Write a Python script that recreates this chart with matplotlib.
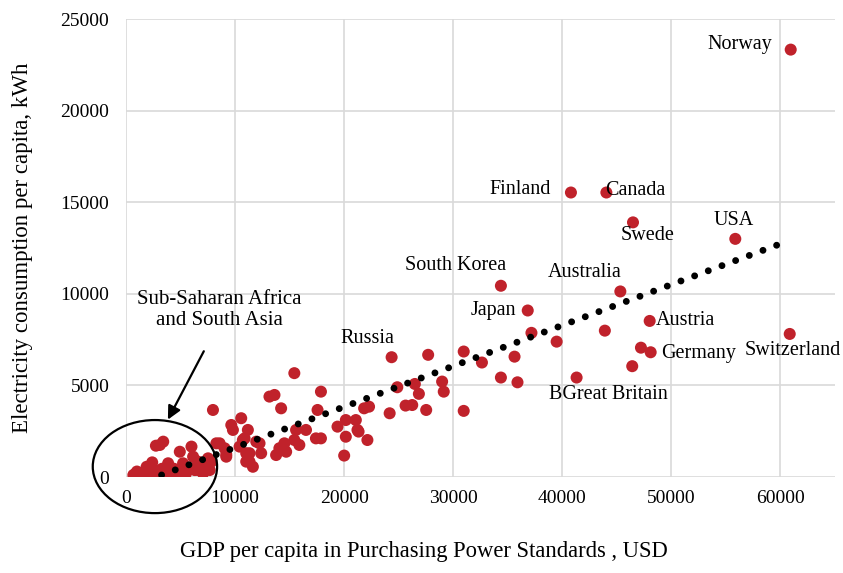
import matplotlib
matplotlib.use("Agg")
import matplotlib.pyplot as plt
from matplotlib.patches import Ellipse

# GDP per capita (PPS, USD) and electricity use per capita (kWh)
gdp = [670, 1300, 1890, 1740, 2650, 3100, 3410, 3860, 3860, 4930,
       4930, 5230, 6000, 6150, 6300, 6600, 7060, 7370, 7520, 7830,
       7970, 8280, 9190, 9040, 820, 2350, 5230, 6600, 7670, 7370,
       2740, 1000, 2000, 3000, 4500, 5500, 5800, 7000, 4400, 2400,
       3300, 8580, 9190,
       9650, 9800, 10560, 10710, 11020, 11170, 11020, 11630, 12240, 12390,
       13150, 13610, 13760, 14220, 14680, 14520, 15430, 15590, 15890, 16500,
       17410, 17560, 17870, 17870, 10410, 11320, 11320, 11940, 14060, 15430,
       10870,
       19390, 20000, 20150, 20150, 21070, 21220, 22130, 21830, 22280, 21320,
       24350, 27700, 24870, 26480, 26850, 28980, 29130, 25630, 26240, 24170,
       27520, 30960, 30960, 32630,
       34370, 36830, 37170, 39480, 35620, 34370, 35890, 41310, 45320, 43900,
       46410, 47210, 48100, 48010, 40790, 44040, 46480, 55860, 60850, 60940]
kwh = [110, 50, 560, 220, 380, 1750, 1930, 750, 200, 1380,
       290, 750, 1660, 1110, 380, 840, 200, 560, 1020, 840,
       3660, 1840, 1110, 1570, 160, 290, 560, 380, 380, 650,
       1710, 300, 100, 150, 100, 200, 500, 600, 450, 800,
       450, 1840, 1230,
       2840, 2570, 3210, 2020, 1300, 2570, 840, 560, 1840, 1300,
       4390, 4480, 1200, 3750, 1380, 1840, 5670, 2570, 1750, 2570,
       2110, 3660, 4660, 2110, 1660, 1300, 840, 1930, 1570, 2020,
       2110,
       2750, 1170, 2200, 3110, 3110, 2570, 2020, 3750, 3840, 2480,
       6540, 6670, 4900, 5080, 4540, 5210, 4660, 3900, 3930, 3480,
       3660, 3610, 6850, 6250,
       10440, 9090, 7870, 7390, 6570, 5430, 5170, 5430, 10130, 7990,
       6050, 7060, 6810, 8520, 15530, 15530, 13900, 13000, 7810, 23330]

# linear trend line end points
trend_x = [3260, 60000]
trend_y = [110, 12730]

# country labels: text, x, y, alignment
labels = ["Norway", "Finland", "Canada", "Swede", "USA", "South Korea", "Australia",
          "Japan", "Austria", "Russia", "Germany", "Switzerland", "BGreat Britain"]
label_x = [59270, 38990, 43920, 47850, 55710, 30230, 42010,
           35800, 48580, 22100, 49040, 61090, 44200]
label_y = [23600, 15680, 15630, 13170, 13990, 11530, 11150,
           9070, 8520, 7540, 6720, 6880, 4480]
label_ha = ["right", "right", "left", "center", "center", "center", "center",
            "right", "left", "center", "left", "center", "center"]

plt.rcParams['font.family'] = ['Liberation Serif', 'DejaVu Serif']
plt.rcParams['font.size'] = 14

fig = plt.figure(figsize=(8.43, 5.73), dpi=100)
ax = fig.add_axes([0.1495, 0.1675, 0.841, 0.7993])

ax.scatter(gdp, kwh, s=75, color='#C0222B', edgecolors='none', zorder=3)
ax.plot(trend_x, trend_y, color='black', lw=5, linestyle=(0, (0.001, 2.1)),
        dash_capstyle='round', zorder=4)

for t, x, y, ha in zip(labels, label_x, label_y, label_ha):
    ax.text(x, y, t, ha=ha, va='center', fontsize=14.5, zorder=5)

ax.text(8580, 9120, "Sub-Saharan Africa\nand South Asia", ha='center', va='center',
        fontsize=15, linespacing=1.2)
ax.add_patch(Ellipse((2650, 570), 11400, 5080, fill=False, lw=1.6,
                     edgecolor='black', clip_on=False, zorder=6))
ax.annotate('', xy=(3720, 3000), xytext=(7250, 7000),
            arrowprops=dict(arrowstyle='-|>', lw=1.6, color='black', mutation_scale=20))

ax.set_xlim(0, 65000)
ax.set_ylim(0, 25000)
ax.set_xticks(range(0, 65000, 10000))
ax.set_yticks(range(0, 25001, 5000))
ax.grid(True, color='#d9d9d9', lw=1.2)
ax.set_axisbelow(True)
for s in ax.spines.values():
    s.set_visible(False)
ax.tick_params(length=0)
ax.tick_params(axis='x', pad=9)
ax.tick_params(axis='y', pad=12)

ax.set_xlabel("GDP per capita in Purchasing Power Standards , USD", fontsize=16.3)
ax.xaxis.set_label_coords(0.42, -0.14)
ax.set_ylabel("Electricity consumption per capita, kWh", fontsize=16.5, labelpad=20)

fig.savefig("out.png", dpi=100)
